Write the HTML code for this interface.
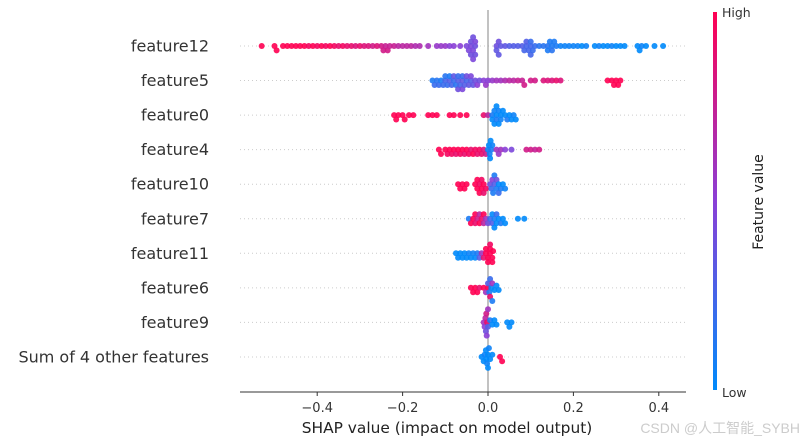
<!DOCTYPE html>
<html><head><meta charset="utf-8"><style>
body{margin:0;background:#fff;}
svg{display:block;font-family:"DejaVu Sans","Liberation Sans",sans-serif;}
</style></head><body>
<svg id="chart" width="812" height="448">
<defs><linearGradient id="cg" x1="0" y1="1" x2="0" y2="0">
<stop offset="0" stop-color="#008afb"/><stop offset="0.5" stop-color="#8a3fd6"/><stop offset="1" stop-color="#ff0052"/></linearGradient></defs>
<g id="grid"></g>
<line x1="488" y1="10" x2="488" y2="392" stroke="#999" stroke-width="1.2"/>
<g id="pts"></g>
<g id="labels"></g>
<line x1="240" y1="392" x2="686" y2="392" stroke="#333" stroke-width="1"/>
<g id="xticks"></g>
<text x="447" y="433" font-size="15.4" fill="#222" text-anchor="middle">SHAP value (impact on model output)</text>
<rect x="713" y="12" width="4" height="378" fill="url(#cg)"/>
<text x="722" y="17" font-size="12.5" fill="#333">High</text>
<text x="722" y="397" font-size="12.5" fill="#333">Low</text>
<text transform="translate(763,202) rotate(-90)" font-size="14" fill="#222" text-anchor="middle">Feature value</text>
<text x="800" y="433" font-size="14" fill="#ccc" text-anchor="end" font-family="Liberation Sans,Noto Sans CJK SC,sans-serif">CSDN @人工智能_SYBH</text>
</svg>
<script>
const features=["feature12","feature5","feature0","feature4","feature10","feature7","feature11","feature6","feature9","Sum of 4 other features"];
const xTicks=[-0.4,-0.2,0,0.2,0.4];
const tickLabels=["\u22120.4","\u22120.2","0.0","0.2","0.4"];
const f12=[[-0.53,1],[-0.5,1],[-0.495,1],[-0.48,1],[-0.47,1],[-0.46,1],[-0.45,1],[-0.44,1],[-0.43,1],[-0.42,.95],[-0.41,1],[-0.40,.95],[-0.39,1],[-0.38,.95],[-0.37,1],[-0.36,.95],[-0.35,.9],[-0.34,.95],[-0.33,.9],[-0.32,.9],[-0.31,.85],[-0.3,.9],[-0.29,.85],[-0.28,.85],[-0.27,.8],[-0.26,.85],[-0.25,.8],[-0.245,.8],[-0.24,.75],[-0.235,.8],[-0.23,.75],[-0.22,.75],[-0.21,.7],[-0.2,.7],[-0.19,.7],[-0.18,.7],[-0.17,.65],[-0.16,.65],[-0.14,.6],[-0.12,.55],[-0.11,.55],[-0.1,.55],[-0.09,.5],[-0.08,.5],[-0.065,.5],[-0.05,.45],[-0.045,.45],[-0.04,.45],[-0.04,.4],[-0.035,.45],[-0.035,.4],[-0.03,.4],[-0.03,.45],[-0.04,.4],[-0.03,.4],[-0.035,.45],[0.02,.4],[0.02,.35],[0.025,.4],[0.025,.35],[0.03,.35],[0.04,.35],[0.05,.3],[0.06,.3],[0.07,.3],[0.08,.3],[0.085,.25],[0.09,.25],[0.09,.3],[0.095,.25],[0.1,.25],[0.1,.2],[0.1,.25],[0.105,.2],[0.11,.2],[0.12,.15],[0.13,.15],[0.14,.15],[0.14,.1],[0.145,.1],[0.15,.1],[0.15,.15],[0.155,.1],[0.16,.1],[0.17,.05],[0.18,.05],[0.19,.05],[0.2,.05],[0.21,.05],[0.22,0],[0.23,.05],[0.25,0],[0.26,.05],[0.27,0],[0.28,0],[0.29,.05],[0.3,0],[0.31,0],[0.32,0],[0.35,0],[0.355,0],[0.36,.05],[0.37,0],[0.39,0],[0.41,0]];
const f5=[[-0.13,.1],[-0.125,.2],[-0.12,.15],[-0.115,.2],[-0.11,.1],[-0.105,.2],[-0.1,.25],[-0.1,.15],[-0.095,.2],[-0.09,.3],[-0.09,.1],[-0.085,.25],[-0.08,.2],[-0.08,.35],[-0.075,.15],[-0.07,.3],[-0.07,.2],[-0.07,.4],[-0.065,.25],[-0.06,.35],[-0.06,.2],[-0.06,.45],[-0.055,.3],[-0.05,.25],[-0.05,.4],[-0.045,.35],[-0.04,.3],[-0.04,.45],[-0.035,.35],[-0.03,.4],[-0.025,.5],[-0.02,.4],[-0.01,.5],[-0.005,.55],[0,.5],[0.01,.55],[0.02,.6],[0.03,.6],[0.04,.65],[0.05,.7],[0.06,.7],[0.07,.75],[0.08,.75],[0.085,.8],[0.1,.8],[0.11,.8],[0.13,.85],[0.14,.85],[0.15,.85],[0.16,.9],[0.17,.85],[0.28,1],[0.29,1],[0.295,1],[0.3,1],[0.305,1],[0.31,1]];
const f0=[[-0.22,1],[-0.215,1],[-0.21,1],[-0.2,1],[-0.195,1],[-0.185,1],[-0.175,1],[-0.14,1],[-0.13,1],[-0.12,1],[-0.09,1],[-0.08,1],[-0.065,1],[-0.05,1],[-0.01,.9],[0,.7],[0.01,.1],[0.01,0],[0.015,.05],[0.015,0],[0.02,0],[0.02,.1],[0.02,0],[0.025,.05],[0.025,0],[0.03,0],[0.03,.05],[0.035,0],[0.04,0],[0.045,.1],[0.05,0],[0.055,0],[0.06,.05],[0.065,0]];
const f4=[[-0.115,1],[-0.11,1],[-0.1,1],[-0.095,.95],[-0.09,1],[-0.085,.95],[-0.08,1],[-0.075,.9],[-0.07,1],[-0.065,.95],[-0.06,1],[-0.055,.9],[-0.05,1],[-0.045,.95],[-0.04,.9],[-0.035,1],[-0.03,.95],[-0.025,.9],[-0.02,.95],[-0.015,.9],[-0.01,.85],[-0.005,.8],[0,.05],[0.002,0],[0.004,.05],[0.005,0],[0.006,0],[0.008,.1],[0.01,.05],[0.02,.6],[0.025,.55],[0.03,.6],[0.04,.5],[0.055,.45],[0.09,.8],[0.1,.8],[0.11,.75],[0.12,.8]];
const f10=[[-0.07,1],[-0.065,1],[-0.06,1],[-0.055,1],[-0.05,1],[-0.03,1],[-0.025,1],[-0.025,1],[-0.02,.95],[-0.02,1],[-0.015,1],[-0.015,.95],[-0.01,1],[-0.01,.9],[-0.005,.95],[0.005,.4],[0.008,.2],[0.01,.5],[0.012,.1],[0.015,.3],[0.015,.1],[0.02,.1],[0.02,.4],[0.025,0],[0.025,.2],[0.03,.1],[0.035,0],[0.04,.05]];
const f7=[[-0.045,.1],[-0.04,1],[-0.035,1],[-0.03,.9],[-0.03,1],[-0.025,.8],[-0.02,1],[-0.02,.7],[-0.015,.9],[-0.01,.7],[-0.01,1],[-0.005,.6],[0,.4],[0.005,.2],[0.01,.3],[0.01,0],[0.015,.1],[0.015,0],[0.02,0],[0.02,.2],[0.025,0],[0.03,.1],[0.035,0],[0.04,0],[0.07,0],[0.085,0]];
const f11=[[-0.075,0],[-0.07,0],[-0.065,0],[-0.06,0],[-0.055,0],[-0.05,0],[-0.045,.05],[-0.04,0],[-0.035,.05],[-0.03,0],[-0.025,.1],[-0.02,.3],[-0.015,.6],[-0.01,.9],[-0.005,1],[-0.005,1],[0,1],[0,1],[0.005,1],[0.005,1],[0.005,.95],[0.01,1],[0.01,1],[0.012,1]];
const f6=[[-0.04,1],[-0.035,1],[-0.03,1],[-0.025,1],[-0.02,.9],[-0.01,1],[-0.005,.6],[0,1],[0,.3],[0.003,.1],[0.005,.9],[0.005,.2],[0.008,0],[0.01,.6],[0.01,.1],[0.015,0],[0.02,0],[0.025,0]];
const f9=[[-0.01,.6],[-0.008,.5],[-0.006,.7],[-0.005,.4],[-0.004,.8],[-0.003,.5],[-0.002,.9],[0,.3],[0,.6],[0.005,.1],[0.01,0],[0.015,0],[0.02,0],[0.045,0],[0.05,0],[0.055,0]];
const fsum=[[-0.015,0],[-0.01,0],[-0.008,.05],[-0.005,0],[-0.004,0],[-0.002,.05],[0,0],[0,0],[0.002,.05],[0.005,0],[0.01,0],[0.028,1],[0.033,1]];
const rows=[f12,f5,f0,f4,f10,f7,f11,f6,f9,fsum];

const NS="http://www.w3.org/2000/svg";
const X0=488,SC=427,Y0=46,DY=34.55;
const xs=v=>X0+v*SC, ys=i=>Y0+i*DY;
function col(c){const a=[0,138,251],m=[138,63,214],b=[255,0,82];let p,q,t;if(c<.5){p=a;q=m;t=c*2}else{p=m;q=b;t=(c-.5)*2}
return `rgb(${p.map((v,k)=>Math.round(v+(q[k]-v)*t)).join(',')})`;}
const grid=document.getElementById('grid'),pts=document.getElementById('pts'),lab=document.getElementById('labels'),xt=document.getElementById('xticks');
features.forEach((f,i)=>{
 const y=ys(i);
 const g=document.createElementNS(NS,'line');
 g.setAttribute('x1',240);g.setAttribute('x2',686);g.setAttribute('y1',y);g.setAttribute('y2',y);
 g.setAttribute('stroke','#ccc');g.setAttribute('stroke-dasharray','1 3');
 
 
 grid.appendChild(g);
 const t=document.createElementNS(NS,'text');
 t.setAttribute('x',209);t.setAttribute('y',y+5.5);t.setAttribute('text-anchor','end');t.setAttribute('font-size','16');t.setAttribute('fill','#333');
 t.textContent=f;
 
 
 lab.appendChild(t);
 const data=rows[i].slice().sort((a,b)=>a[0]-b[0]);const placed=[];const R=3,D=3.2;
 data.forEach(([v,c])=>{
  const px=xs(v);let off=0;
  for(let k=0;k<40;k++){const o=(k%2?1:-1)*Math.ceil(k/2)*2.2;
   if(placed.every(p=>Math.hypot(p[0]-px,p[1]-o)>=D)){off=o;break;}}
  placed.push([px,off]);
  const e=document.createElementNS(NS,'circle');
  e.setAttribute('cx',px.toFixed(1));e.setAttribute('cy',(y+off).toFixed(1));e.setAttribute('r',R);
  e.setAttribute('fill',col(c));e.setAttribute('fill-opacity','0.9');
  
  
  pts.appendChild(e);
 });
});
xTicks.forEach((v,i)=>{
 const l=document.createElementNS(NS,'line');
 l.setAttribute('x1',xs(v));l.setAttribute('x2',xs(v));l.setAttribute('y1',392);l.setAttribute('y2',396);l.setAttribute('stroke','#333');
 
 
 xt.appendChild(l);
 const t=document.createElementNS(NS,'text');
 t.setAttribute('x',xs(v));t.setAttribute('y',412);t.setAttribute('text-anchor','middle');t.setAttribute('font-size','13');t.setAttribute('fill','#333');
 t.textContent=tickLabels[i];
 
 
 xt.appendChild(t);
});
</script>
</body></html>
